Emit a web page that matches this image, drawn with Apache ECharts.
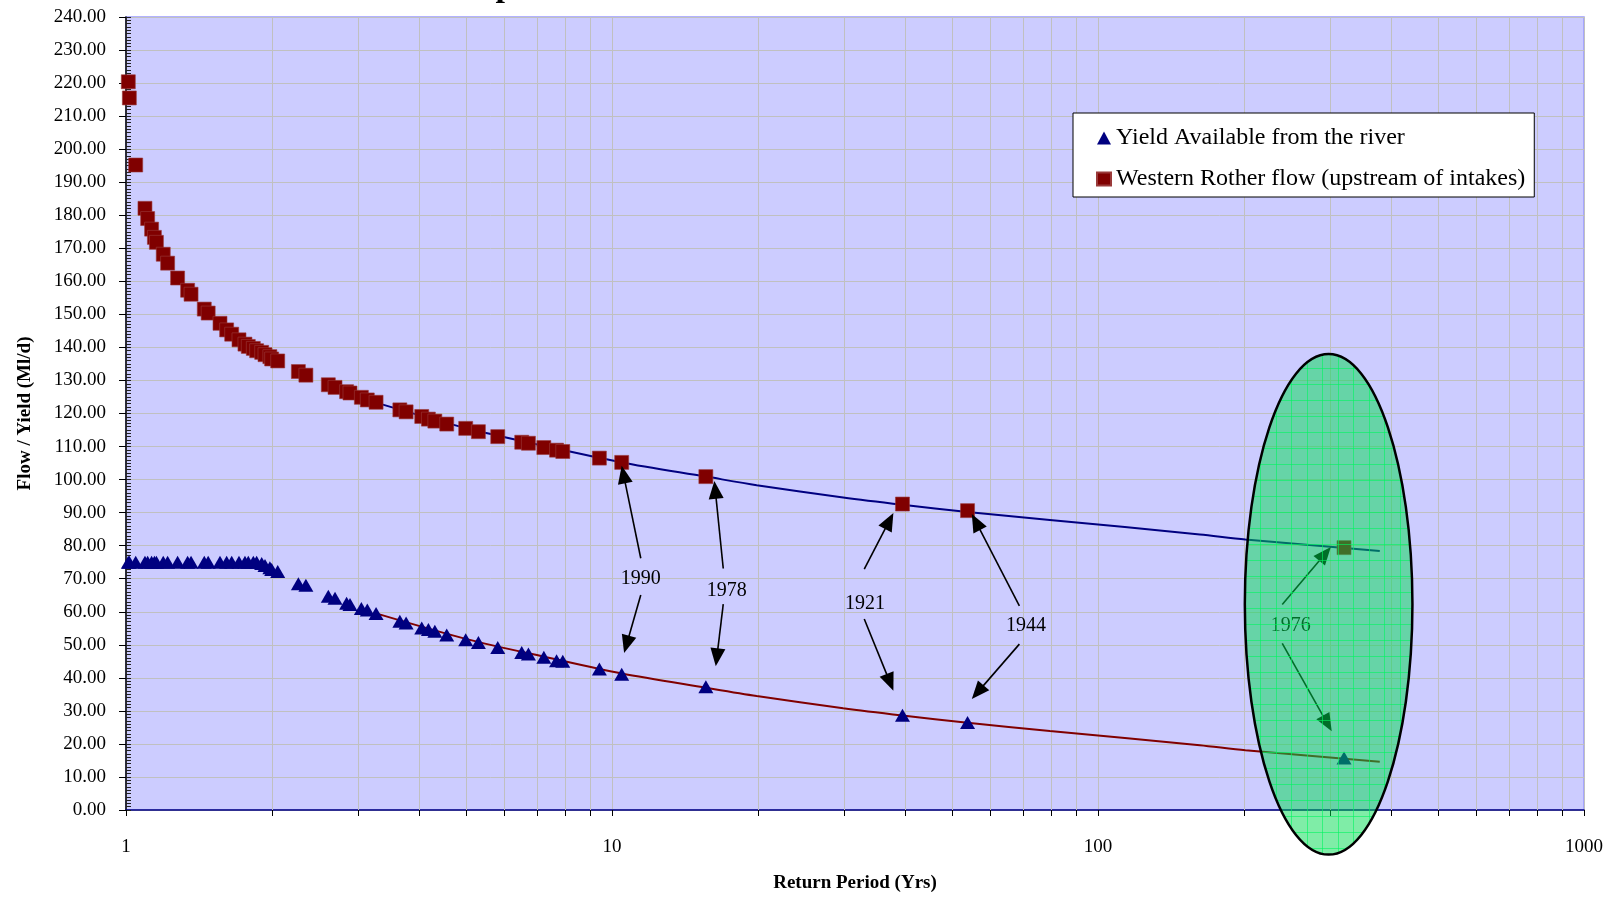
<!DOCTYPE html>
<html><head><meta charset="utf-8">
<script src="https://cdn.jsdelivr.net/npm/echarts@6/dist/echarts.min.js"></script>
<style>html,body{margin:0;padding:0;background:#fff;}#chart{width:1612px;height:898px;}</style>
</head><body><div id="chart"></div>
<script>
// ---- data ----
const returnPeriod = [1.011, 1.016, 1.047, 1.094, 1.108, 1.129, 1.144, 1.155, 1.193, 1.218,
  1.277, 1.339, 1.361, 1.449, 1.476, 1.561, 1.611, 1.65, 1.708, 1.757,
  1.785, 1.828, 1.857, 1.902, 1.932, 1.977, 1.994, 2.052,
  2.263, 2.345, 2.608, 2.692, 2.844, 2.89, 3.05, 3.137, 3.27, 3.66,
  3.77, 4.06, 4.19, 4.32, 4.57, 5.0, 5.31, 5.82, 6.52, 6.73,
  7.24, 7.69, 7.92, 9.42, 10.47,
  15.6, 39.6, 53.9, 320.8];
const flowUpstream = [220.4, 215.5, 195.2, 182.1, 179.0, 175.8, 173.3, 171.8, 168.2, 165.5,
  161.0, 157.3, 156.1, 151.6, 150.4, 147.3, 145.3, 144.0, 142.3, 141.0,
  140.3, 139.7, 139.0, 138.5, 137.8, 137.2, 136.5, 135.9,
  132.7, 131.6, 128.7, 127.9, 126.6, 126.2, 124.9, 124.1, 123.4, 121.1,
  120.5, 119.1, 118.3, 117.7, 116.8, 115.5, 114.5, 113.0, 111.3, 111.0,
  109.7, 108.9, 108.5, 106.5, 105.2,
  100.9, 92.6, 90.6, 79.4];
const yieldRiver = [75, 75, 75, 75, 75, 75, 75, 75, 75, 75,
  75, 75, 75, 75, 75, 75, 75, 75, 75, 75,
  75, 75, 75, 74.6, 74.0, 73.3, 72.8, 72.2,
  68.5, 68.0, 64.7, 64.1, 62.6, 62.2, 61.0, 60.5, 59.5, 57.1,
  56.6, 55.1, 54.6, 54.1, 53.0, 51.5, 50.7, 49.2, 47.7, 47.2,
  46.2, 45.2, 45.0, 42.7, 41.1,
  37.3, 28.7, 26.5, 15.7];
const trendX = [3.27, 5, 7.45, 10.47, 15.6, 19.85, 29.9, 39.6, 53.9, 79.6, 162, 201, 380];
const flowTrend = [123.3, 115.6, 109.8, 105.2, 100.9, 98.3, 94.6, 92.4, 90.2, 87.8, 83.4, 81.9, 78.4];
const yieldTrend = [59.5, 51.8, 46.0, 41.3, 37.0, 34.5, 30.8, 28.6, 26.4, 23.9, 19.6, 18.1, 14.6];
const xMinorGrid = [2, 3, 4, 5, 6, 7, 8, 9, 20, 30, 40, 50, 60, 70, 80, 90, 200, 300, 400, 500, 600, 700, 800, 900];
const seriesNames = ['Yield Available from the river', 'Western Rother flow (upstream of intakes)'];
// annotations (data-space positions): label, label position, arrows [tail, tip]
const annoYears = ['1990', '1978', '1921', '1944', '1976'];
const annoLabelPos = [[11.46, 69.9], [17.22, 66.4], [33.16, 62.5], [71.1, 55.7], [249.2, 55.7]];
const annoArrows = [
  [[[11.46, 76.2], [10.47, 104.2]], [[11.46, 65.05], [10.59, 47.5]]],
  [[[16.94, 73.1], [16.24, 99.6]], [[16.94, 62.3], [16.35, 43.5]]],
  [[[33.04, 72.9], [37.93, 89.9]], [[33.04, 57.8], [37.93, 36.1]]],
  [[[68.9, 61.8], [55.0, 89.6]], [[68.9, 50.2], [55.0, 33.6]]],
  [[[239.4, 62.2], [301.4, 79.6]], [[239.4, 50.4], [302.6, 23.8]]]
];
const highlightXRange = [200.5, 443.6];
const highlightYRange = [-13.5, 138.0];

const SERIF = "'Liberation Serif','Times New Roman',serif";
const zip = (xs, ys) => xs.map((x, i) => [x, ys[i]]);

const chart = echarts.init(document.getElementById('chart'), null, {renderer: 'canvas'});
const option = {
  animation: false,
  grid: {left: 126, top: 17, width: 1458, height: 794, show: true,
    backgroundColor: '#CCCCFF', borderColor: '#9999FF', borderWidth: 1.5},
  legend: {
    data: [{name: seriesNames[0], icon: 'triangle'}, {name: seriesNames[1], icon: 'rect'}],
    orient: 'vertical', left: 1073, top: 113,
    backgroundColor: '#ffffff', borderColor: '#000', borderWidth: 1, borderRadius: 0,
    padding: [13, 9, 6, 23], itemGap: 17, itemWidth: 14, itemHeight: 13,
    textStyle: {fontFamily: SERIF, fontSize: 24, color: '#000'}
  },
  xAxis: {
    type: 'log', logBase: 10, min: 1, max: 1000,
    name: 'Return Period (Yrs)', nameLocation: 'middle', nameGap: 64,
    nameTextStyle: {fontFamily: SERIF, fontSize: 19, fontWeight: 'bold', color: '#000'},
    axisLine: {show: true, lineStyle: {color: '#000080', width: 1.5}},
    axisTick: {show: true, length: 6, lineStyle: {color: '#000'}},
    axisLabel: {fontFamily: SERIF, fontSize: 19, color: '#000', margin: 28, formatter: v => String(v)},
    splitLine: {show: true, lineStyle: {color: '#C0C0C0', width: 1}}
  },
  yAxis: [{
    type: 'value', min: 0, max: 240, interval: 10,
    name: 'Flow / Yield (Ml/d)', nameLocation: 'middle', nameGap: 91, nameRotate: 90,
    nameTextStyle: {fontFamily: SERIF, fontSize: 19, fontWeight: 'bold', color: '#000'},
    axisLine: {show: true, lineStyle: {color: '#000', width: 1.5}},
    axisTick: {show: true, length: 7, lineStyle: {color: '#000'}},
    axisLabel: {fontFamily: SERIF, fontSize: 19, color: '#000', margin: 20, formatter: v => v.toFixed(2)},
    splitLine: {show: true, lineStyle: {color: '#C0C0C0', width: 1}}
  }, {
    type: 'value', min: 0, max: 240, interval: 1, position: 'left',
    axisLine: {show: false},
    axisTick: {show: true, inside: true, length: 5, lineStyle: {color: '#222'}},
    axisLabel: {show: false}, splitLine: {show: false}
  }],
  series: [
    {
      type: 'custom', name: 'minorGrid', silent: true, z: 1,
      data: xMinorGrid.map(v => [v, 0]),
      renderItem: (params, api) => {
        const b = api.coord([api.value(0), 0]);
        const t = api.coord([api.value(0), 240]);
        const x = Math.round(b[0]) + 0.5;
        return {type: 'group', children: [
          {type: 'line', shape: {x1: x, y1: b[1], x2: x, y2: t[1]}, style: {stroke: '#C0C0C0', lineWidth: 1}},
          {type: 'line', shape: {x1: x, y1: b[1], x2: x, y2: b[1] + 6}, style: {stroke: '#000', lineWidth: 1}}
        ]};
      }
    },
    {type: 'line', name: 'flowTrend', data: zip(trendX, flowTrend), showSymbol: false, smooth: 0.3,
      lineStyle: {color: '#000080', width: 2}, silent: true, z: 2},
    {type: 'line', name: 'yieldTrend', data: zip(trendX, yieldTrend), showSymbol: false, smooth: 0.3,
      lineStyle: {color: '#800000', width: 2}, silent: true, z: 2},
    {type: 'scatter', name: seriesNames[0], data: zip(returnPeriod, yieldRiver),
      symbol: 'triangle', symbolSize: [15, 13], itemStyle: {color: '#000080', opacity: 1}, z: 3},
    {type: 'scatter', name: seriesNames[1], data: zip(returnPeriod, flowUpstream),
      symbol: 'rect', symbolSize: 14, itemStyle: {color: '#800000', borderColor: '#9a3a3a', borderWidth: 0.6, opacity: 1}, z: 3}
  ]
};
chart.setOption(option);

function px(p) { return chart.convertToPixel({xAxisIndex: 0, yAxisIndex: 0}, p); }
const g = [];
// cut-off title glyph at the top
g.push({type: 'text', z: 5, style: {text: 'p', x: 505, y: -13, align: 'center', verticalAlign: 'middle',
  font: "bold 34px 'Liberation Serif','Times New Roman',serif", fill: '#000'}});
annoYears.forEach((yr, i) => {
  const c = px(annoLabelPos[i]);
  g.push({type: 'text', z: 10, style: {text: yr, x: c[0], y: c[1], align: 'center', verticalAlign: 'middle',
    font: "20px 'Liberation Serif','Times New Roman',serif", fill: '#000'}});
  annoArrows[i].forEach(a => {
    const T = px(a[0]), P = px(a[1]);
    const dx = P[0] - T[0], dy = P[1] - T[1], len = Math.hypot(dx, dy);
    const ux = dx / len, uy = dy / len, L = 18, W = 7.5;
    const B = [P[0] - ux * L, P[1] - uy * L];
    g.push({type: 'line', z: 10, shape: {x1: T[0], y1: T[1], x2: B[0] + ux * 2, y2: B[1] + uy * 2},
      style: {stroke: '#000', lineWidth: 1.6}});
    g.push({type: 'polygon', z: 10, shape: {points: [P, [B[0] - uy * W, B[1] + ux * W], [B[0] + uy * W, B[1] - ux * W]]},
      style: {fill: '#000'}});
  });
});
// highlighted ellipse
const pl = px([highlightXRange[0], highlightYRange[0]]);
const pr = px([highlightXRange[1], highlightYRange[1]]);
const cx = (pl[0] + pr[0]) / 2, cy = (pl[1] + pr[1]) / 2;
const rx = (pr[0] - pl[0]) / 2, ry = (pl[1] - pr[1]) / 2;
g.push({type: 'ellipse', z: 100, shape: {cx, cy, rx, ry}, style: {fill: 'rgba(0,220,80,0.5)', stroke: 'none'}});
for (let k = -8; k <= 8; k++) {
  const x = Math.round(cx - 6.4 + k * 15.5) + 0.5, d = (x - cx) / rx;
  if (Math.abs(d) >= 1) continue;
  const h = ry * Math.sqrt(1 - d * d);
  g.push({type: 'line', z: 101, silent: true, shape: {x1: x, y1: cy - h, x2: x, y2: cy + h}, style: {stroke: 'rgba(0,245,95,0.6)', lineWidth: 1}});
}
for (let k = -20; k <= 20; k++) {
  const y = Math.round(cy + 4 + k * 16) + 0.5, d = (y - cy) / ry;
  if (Math.abs(d) >= 1) continue;
  const w = rx * Math.sqrt(1 - d * d);
  g.push({type: 'line', z: 101, silent: true, shape: {x1: cx - w, y1: y, x2: cx + w, y2: y}, style: {stroke: 'rgba(0,245,95,0.6)', lineWidth: 1}});
}
g.push({type: 'ellipse', z: 102, shape: {cx, cy, rx, ry}, style: {fill: 'none', stroke: '#000', lineWidth: 2.5}});
chart.setOption({graphic: {elements: g}});
</script></body></html>
